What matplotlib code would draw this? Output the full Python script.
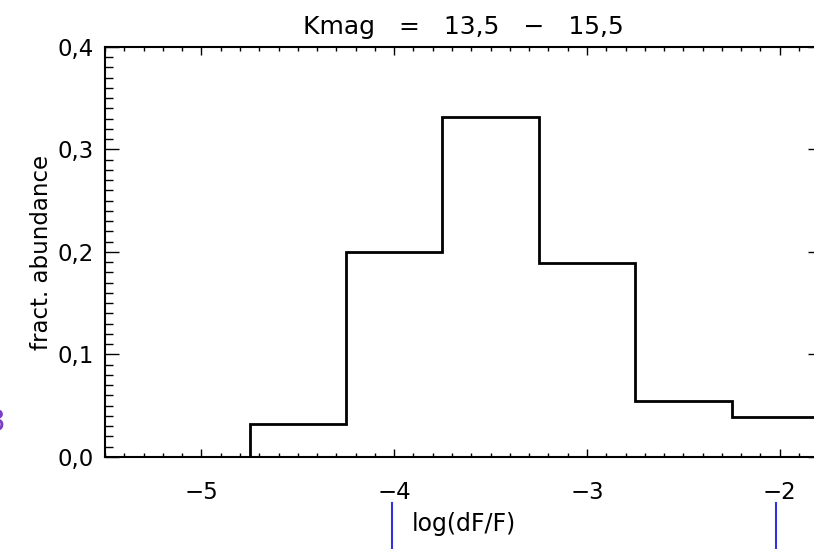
import numpy as np
import matplotlib
matplotlib.use("Agg")
import matplotlib.pyplot as plt
from matplotlib.ticker import MultipleLocator, FuncFormatter
import matplotlib.transforms as mtransforms

# histogram of log(dF/F), bin width 0.5
bin_edges = [-5.75, -5.25, -4.75, -4.25, -3.75, -3.25, -2.75, -2.25, -1.75]
fract = [0.0, 0.0, 0.032, 0.200, 0.332, 0.189, 0.055, 0.039]

x_ticks = [-5, -4, -3, -2]
y_ticks = [0.0, 0.1, 0.2, 0.3, 0.4]
marker_x = [-4.01, -2.02]   # blue marks below the axis

title = "Kmag   =   13,5   \u2212   15,5"

fig = plt.figure(figsize=(8.14, 5.49), dpi=100)
ax = fig.add_axes([0.129, 0.1676, 0.881, 0.7468])

ax.stairs(fract, bin_edges, color="black", linewidth=2.0, baseline=None)

ax.set_xlim(-5.5, -1.78)
ax.set_ylim(0, 0.4)
ax.set_xticks(x_ticks)
ax.set_yticks(y_ticks)
ax.xaxis.set_minor_locator(MultipleLocator(0.1))
ax.yaxis.set_minor_locator(MultipleLocator(0.01))
ax.xaxis.set_major_formatter(FuncFormatter(lambda v, p: "\u2212%d" % abs(v)))
ax.yaxis.set_major_formatter(FuncFormatter(lambda v, p: ("%.1f" % v).replace(".", ",")))

ax.tick_params(which="both", direction="in", top=True, right=True,
               labelsize=16.5, width=1, colors="black")
ax.tick_params(axis="x", which="major", length=5.8, pad=17)
ax.tick_params(axis="x", which="minor", length=2.9)
ax.tick_params(axis="y", which="major", length=10, pad=8)
ax.tick_params(axis="y", which="minor", length=6)
for s in ax.spines.values():
    s.set_linewidth(1.5)

ax.set_title(title, fontsize=18, pad=9)
ax.set_xlabel("log(dF/F)", fontsize=17, labelpad=6)
ax.set_ylabel("fract. abundance", fontsize=16.5, labelpad=3)

trans = mtransforms.blended_transform_factory(ax.transData, ax.transAxes)
for mx in marker_x:
    ax.plot([mx, mx], [-0.112, -0.224], color="#3333dd", linewidth=1.5,
            transform=trans, clip_on=False)

# clipped purple glyph at the left edge
fig.text(0.006, 0.23, "8", color="#7b3fc4", fontsize=22, ha="right", va="center")

fig.savefig("out.png", dpi=100)
